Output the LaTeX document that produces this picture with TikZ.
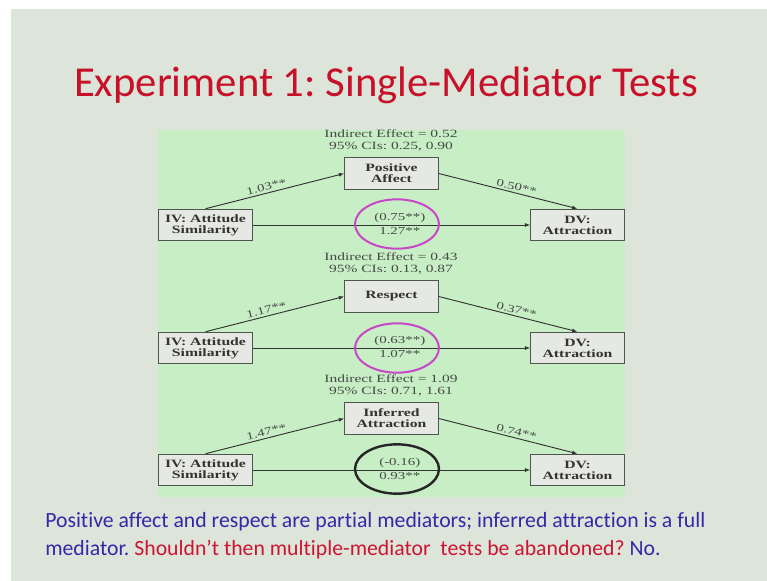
\documentclass[tikz,border=0pt]{standalone}
\usepackage{fontspec}
\setmainfont{Carlito}[Ligatures=NoCommon]
\newfontfamily\dgfont[FakeStretch=1.4]{Liberation Serif}
\usetikzlibrary{arrows.meta,shapes.geometric}
\frenchspacing

\definecolor{slidebg}{RGB}{221,229,218}
\definecolor{panelgreen}{RGB}{200,238,198}
\definecolor{boxfill}{RGB}{230,232,228}
\definecolor{boxline}{RGB}{80,84,80}
\definecolor{titlered}{RGB}{200,16,40}
\definecolor{noteblue}{RGB}{50,40,170}
\definecolor{notered}{RGB}{205,20,50}
\definecolor{ovalpink}{RGB}{200,70,200}
\definecolor{dgtext}{RGB}{70,74,70}

\tikzset{
  varbox/.style={draw=boxline, line width=0.9pt, fill=boxfill,
    minimum width=70pt, minimum height=23.5pt, inner sep=1pt, align=center,
    font=\dgfont\bfseries\fontsize{8.4}{8.4}\selectfont, text=black!80},
  link/.style={draw=black!80, line width=0.7pt, -{Latex[length=4pt,width=3pt]}},
  coef/.style={font=\dgfont\fontsize{8}{8}\selectfont, text=dgtext, sloped, above, inner sep=1.5pt},
  effect/.style={font=\dgfont\fontsize{8.3}{8.6}\selectfont, text=dgtext, align=center},
  direct/.style={font=\dgfont\fontsize{8}{8}\selectfont, text=dgtext, inner sep=1.5pt},
  oval/.style={ellipse, draw=ovalpink, line width=1.5pt, minimum width=63pt, minimum height=37pt},
  fulloval/.style={oval, draw=black!85, line width=1.8pt},
  title/.style={font=\fontsize{32}{34}\selectfont, text=titlered},
  note/.style={font=\fontsize{16.3}{18}\selectfont, text=noteblue, anchor=base west, inner sep=0pt},
}

\begin{document}
\begin{tikzpicture}[x=0.75pt, y=-0.75pt]
  % slide background with its white top and left edge
  \fill[white] (0,0) rectangle (767,581);
  \fill[slidebg] (11,9) rectangle (767,581);
  \useasboundingbox (0,0) rectangle (767,581);

  % title
  \node[title, anchor=base] (title) at (386,97) {Experiment 1: Single-Mediator Tests};

  % figure panel
  \fill[panelgreen] (158,130) rectangle (625,497);

  % panel 1: positive affect
  \node[effect] (ie1) at (391,140.5) {Indirect Effect = 0.52\\95\% CIs: 0.25, 0.90};
  \node[varbox] (m1) at (391.5,173.5) {Positive\\Affect};
  \node[varbox] (iv1) at (205.5,225) {IV: Attitude\\Similarity};
  \node[varbox] (dv1) at (577.5,225) {DV:\\Attraction};
  \draw[link] (iv1.north) -- node[coef, pos=0.45] {1.03**} (m1.west);
  \draw[link] (m1.east) -- node[coef, pos=0.55] {0.50**} (dv1.north);
  \draw[link] (iv1.east) -- node[direct, pos=0.53, above] {(0.75**)} node[direct, pos=0.53, below] {1.27**} (dv1.west);
  \node[oval] (o1) at (397,224) {};

  % panel 2: respect
  \begin{scope}[shift={(0,123)}]
    \node[effect] (ie2) at (391,140.5) {Indirect Effect = 0.43\\95\% CIs: 0.13, 0.87};
    \node[varbox] (m2) at (391.5,173.5) {Respect};
    \node[varbox] (iv2) at (205.5,225) {IV: Attitude\\Similarity};
    \node[varbox] (dv2) at (577.5,225) {DV:\\Attraction};
    \draw[link] (iv2.north) -- node[coef, pos=0.45] {1.17**} (m2.west);
    \draw[link] (m2.east) -- node[coef, pos=0.55] {0.37**} (dv2.north);
    \draw[link] (iv2.east) -- node[direct, pos=0.53, above] {(0.63**)} node[direct, pos=0.53, below] {1.07**} (dv2.west);
    \node[oval] (o2) at (397,225) {};
  \end{scope}

  % panel 3: inferred attraction
  \begin{scope}[shift={(0,245)}]
    \node[effect] (ie3) at (391,140.5) {Indirect Effect = 1.09\\95\% CIs: 0.71, 1.61};
    \node[varbox] (m3) at (391.5,173.5) {Inferred\\Attraction};
    \node[varbox] (iv3) at (205.5,225) {IV: Attitude\\Similarity};
    \node[varbox] (dv3) at (577.5,225) {DV:\\Attraction};
    \draw[link] (iv3.north) -- node[coef, pos=0.45] {1.47**} (m3.west);
    \draw[link] (m3.east) -- node[coef, pos=0.55] {0.74**} (dv3.north);
    \draw[link] (iv3.east) -- node[direct, pos=0.53, above] {(-0.16)} node[direct, pos=0.53, below] {0.93**} (dv3.west);
    \node[fulloval] (o3) at (397,224) {};
  \end{scope}

  % conclusion
  \node[note] (n1) at (45,527) {Positive affect and respect are partial mediators; inferred attraction is a full};
  \node[note] (n2) at (45,555) {mediator. \textcolor{notered}{Shouldn’t then multiple-mediator\ \ tests be abandoned?} No.};
\end{tikzpicture}
\end{document}
